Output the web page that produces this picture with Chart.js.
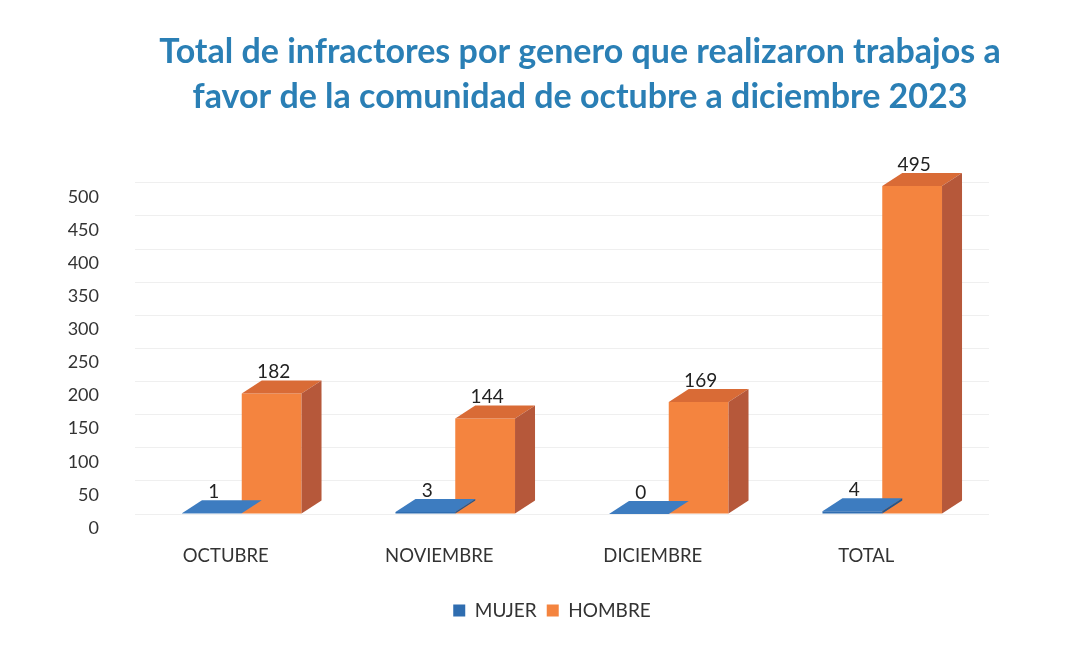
<!DOCTYPE html>
<html>
<head>
<meta charset="utf-8">
<script src="https://cdn.jsdelivr.net/npm/chart.js@4.4.1/dist/chart.umd.min.js"></script>
<style>
  html, body { margin: 0; padding: 0; background: #fff; }
  #wrap { width: 1083px; height: 645px; }
</style>
</head>
<body>
<div id="wrap"><canvas id="infChart" width="1083" height="645"></canvas></div>
<script>
// data
const categories = ['OCTUBRE', 'NOVIEMBRE', 'DICIEMBRE', 'TOTAL'];
const mujer = [1, 3, 0, 4];
const hombre = [182, 144, 169, 495];
const yTicks = [0, 50, 100, 150, 200, 250, 300, 350, 400, 450, 500];

const DX = 20, DY = 13; // fake 3d depth
const FONT = 'Lato, "Open Sans", sans-serif';

// draws top + side faces and the value label of each bar
const fake3d = {
    id: 'fake3d',
    afterDatasetDraw(chart, args) {
        const ctx = chart.ctx;
        const ds = chart.data.datasets[args.index];
        args.meta.data.forEach((bar, i) => {
            const left = bar.x - bar.width / 2;
            const right = bar.x + bar.width / 2;
            const top = bar.y;
            const base = bar.base;
            ctx.save();
            // top face
            ctx.fillStyle = ds.topColor;
            ctx.beginPath();
            ctx.moveTo(left, top);
            ctx.lineTo(left + DX, top - DY);
            ctx.lineTo(right + DX, top - DY);
            ctx.lineTo(right, top);
            ctx.closePath();
            ctx.fill();
            // side face
            if (base - top > 0.5) {
                ctx.fillStyle = ds.sideColor;
                ctx.beginPath();
                ctx.moveTo(right, top);
                ctx.lineTo(right + DX, top - DY);
                ctx.lineTo(right + DX, base - DY);
                ctx.lineTo(right, base);
                ctx.closePath();
                ctx.fill();
            }
            // value label
            ctx.fillStyle = '#222';
            ctx.font = '19px ' + FONT;
            ctx.textAlign = 'center';
            ctx.textBaseline = 'bottom';
            ctx.fillText(ds.data[i], bar.x + 2, top - DY + 1);
            ctx.restore();
        });
    }
};

// title and legend sit a bit right of the page centre in the original
const recentre = {
    id: 'recentre',
    afterLayout(chart) {
        const move = (box, centre) => {
            const d = centre - (box.left + box.right) / 2;
            box.left += d;
            box.right += d;
        };
        move(chart.titleBlock, 580);
        move(chart.legend, 552);
    }
};

new Chart(document.getElementById('infChart'), {
    type: 'bar',
    data: {
        labels: categories,
        datasets: [{
            label: 'MUJER',
            data: mujer,
            backgroundColor: '#2F6DB0',
            topColor: '#3D7CC0',
            sideColor: '#24568C'
        }, {
            label: 'HOMBRE',
            data: hombre,
            backgroundColor: '#F4843F',
            topColor: '#D96B36',
            sideColor: '#B6583A'
        }]
    },
    options: {
        responsive: false,
        animation: false,
        categoryPercentage: 0.56,
        barPercentage: 1,
        layout: { padding: { left: 0, right: 94, top: 30, bottom: 15 } },
        plugins: {
            title: {
                display: true,
                text: ['Total de infractores por genero que realizaron trabajos a',
                       'favor de la comunidad de octubre a diciembre 2023'],
                color: '#2A7FB5',
                font: { family: FONT, size: 34, weight: 'bold', lineHeight: 1.32 },
                padding: { top: 0, bottom: 63 }
            },
            legend: {
                position: 'bottom',
                labels: {
                    color: '#333',
                    font: { family: FONT, size: 19 },
                    boxWidth: 12,
                    boxHeight: 12,
                    padding: 10
                }
            },
            tooltip: { enabled: false }
        },
        scales: {
            x: {
                afterFit: s => { s.height = 77; },
                grid: { display: false },
                border: { display: false },
                ticks: {
                    color: '#333',
                    font: { family: FONT, size: 18.5 },
                    labelOffset: -16,
                    padding: 23
                }
            },
            y: {
                min: 0,
                max: 500,
                afterFit: s => { s.width = 135; },
                afterBuildTicks: s => { s.ticks = yTicks.map(v => ({ value: v })); },
                grid: { color: '#efefef', drawTicks: false },
                border: { display: false },
                ticks: {
                    color: '#333',
                    font: { family: FONT, size: 18 },
                    padding: 36,
                    labelOffset: 14
                }
            }
        }
    },
    plugins: [fake3d, recentre]
});
</script>
</body>
</html>
